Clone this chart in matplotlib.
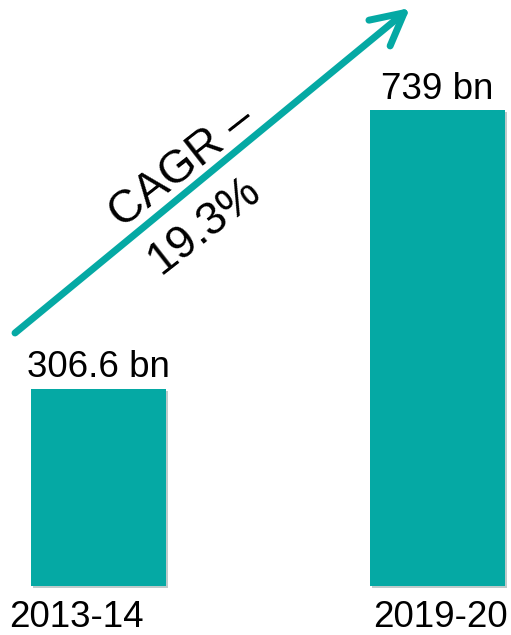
import matplotlib
matplotlib.use("Agg")
import matplotlib.pyplot as plt
import matplotlib.patheffects as pe

plt.rcParams['font.family'] = ['Liberation Sans', 'DejaVu Sans']

### data ###
years = ['2013-14', '2019-20']
values = [306.6, 739]
value_labels = ['306.6 bn', '739 bn']
cagr_lines = ['CAGR \u2013', '19.3%']

teal = '#05A9A4'

fig = plt.figure(figsize=(5.11, 6.35), dpi=100)
ax = fig.add_axes([0, 0, 1, 1])
ax.set_xlim(-0.2906, 1.2168)
ax.set_ylim(-76.1, 909.8)
ax.axis('off')

###bars with a faint drop shadow###
bars = ax.bar(range(len(values)), values, width=0.398, color=teal,
              path_effects=[pe.SimplePatchShadow(offset=(1.5, -1.5), alpha=0.25), pe.Normal()])

###value labels above bars###
for i, (v, lab) in enumerate(zip(values, value_labels)):
    ax.annotate(lab, (i, v), xytext=(0, 8), textcoords='offset points',
                ha='center', va='baseline', fontsize=26.5)

###category labels under bars (first one sits a bit left), kept inside the edge###
shifts = [-16, 2]
for i, (yr, dx) in enumerate(zip(years, shifts)):
    ax.annotate(yr, (i, 0), xytext=(dx, -35), textcoords='offset points',
                ha='center', va='bottom', fontsize=26.5)

###growth arrow###
ax.annotate('', xy=(410, 627), xytext=(15, 302), xycoords='figure pixels',
            textcoords='figure pixels',
            arrowprops=dict(arrowstyle='->,head_length=1.15,head_width=0.6',
                            lw=5, color=teal, mutation_scale=20,
                            shrinkA=0, shrinkB=0, capstyle='round', joinstyle='round'))

fig.text(182, 635 - 167, cagr_lines[0], transform=None, rotation=38,
         rotation_mode='anchor', ha='center', va='center', fontsize=33)
fig.text(204, 635 - 226, cagr_lines[1], transform=None, rotation=38,
         rotation_mode='anchor', ha='center', va='center', fontsize=33)

fig.savefig('out.png', dpi=100)
